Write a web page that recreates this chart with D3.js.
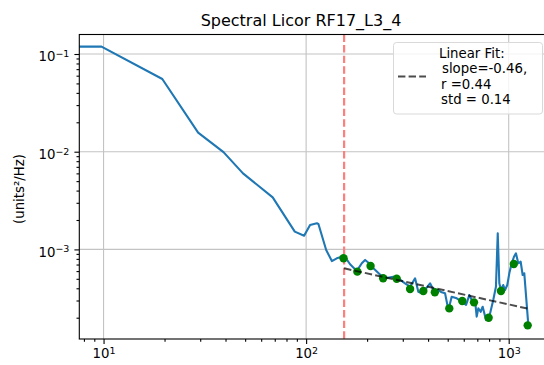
<!DOCTYPE html>
<html>
<head>
<meta charset="utf-8">
<script src="https://cdn.jsdelivr.net/npm/d3@7"></script>
<style>
  html, body { margin: 0; padding: 0; background: #fff; }
  svg { display: block; font-family: "DejaVu Sans", sans-serif; }
</style>
</head>
<body>
<svg id="chart" width="544" height="365"></svg>
<script>
// spectrum (Hz, units^2/Hz)
const freq = [1, 9.77, 19.5, 29.3, 39.1, 48.8, 68.4, 87.9, 97.7,
  104.6, 113, 115, 125.6, 134, 141.7, 154.5, 164.8, 177.9, 188.3,
  195.5, 204.6, 214.8, 237.8, 245.3, 269.7, 285.3, 307.8, 325.8, 345,
  358, 372, 391, 409, 433, 449, 467, 485, 504, 523,
  554, 586, 616, 639, 657, 682, 695, 708, 727, 744,
  773, 802, 839, 865, 883, 899, 916, 940, 959, 984,
  1007, 1035, 1062, 1086, 1115, 1146, 1172, 1194, 1250];
const psd = [0.119, 0.119, 0.0555, 0.0157, 0.0099, 0.0060, 0.00341, 0.00152, 0.00138,
  0.00178, 0.00185, 0.00182, 9.86e-4, 7.60e-4, 8.11e-4, 8.55e-4, 7.05e-4, 6.02e-4, 7.21e-4,
  7.80e-4, 7.21e-4, 6.41e-4, 5.26e-4, 5.06e-4, 5.26e-4, 5.06e-4, 4.50e-4, 4.15e-4, 5.06e-4,
  3.69e-4, 3.56e-4, 4.00e-4, 4.50e-4, 3.56e-4, 3.84e-4, 3.64e-4, 3.56e-4, 2.40e-4, 3.28e-4,
  3.16e-4, 2.92e-4, 2.70e-4, 3.41e-4, 3.03e-4, 3.03e-4, 2.05e-4, 2.49e-4, 2.30e-4, 2.59e-4,
  1.89e-4, 2.05e-4, 3.03e-4, 4.15e-4, 1.46e-3, 4.50e-4, 3.84e-4, 4.32e-4, 3.84e-4, 4.32e-4,
  5.69e-4, 7.21e-4, 8.41e-4, 9.12e-4, 7.21e-4, 7.48e-4, 5.47e-4, 5.69e-4, 1.68e-4];

// log-binned points used for the fit
const binFreq = [153, 179, 208, 240, 280, 326, 379, 432, 509, 590, 674, 796, 916, 1060, 1241];
const binPsd = [8.11e-4, 5.92e-4, 6.76e-4, 5.06e-4, 5.01e-4, 3.94e-4, 3.75e-4, 3.64e-4,
  2.49e-4, 2.96e-4, 2.87e-4, 2.00e-4, 3.75e-4, 7.10e-4, 1.67e-4];

const fitFreq = [154, 1241];
const fitPsd = [6.4e-4, 2.48e-4];
const cutoff = 154;

const xMajor = [10, 100, 1000];
const yMajor = [1e-1, 1e-2, 1e-3];
const legendLines = ['Linear Fit:', 'slope=-0.46,', 'r =0.44', 'std = 0.14'];

const pLeft = 79.3, pRight = 549.6, pTop = 34.5, pBottom = 339;

const svg = d3.select('#chart');
const x = d3.scaleLog().domain([7.59, 1592]).range([pLeft, pRight]);
const y = d3.scaleLog().domain([Math.pow(10, -0.8004), Math.pow(10, -3.917)]).range([pTop, pBottom]);

// minor ticks 2..9 per decade
const minor = (sc) => {
  const [a, b] = d3.extent(sc.domain());
  const out = [];
  for (let e = Math.floor(Math.log10(a)); e <= Math.ceil(Math.log10(b)); e++) {
    for (let k = 2; k <= 9; k++) {
      const v = k * Math.pow(10, e);
      if (v >= a && v <= b) out.push(v);
    }
  }
  return out;
};

svg.append('defs').append('clipPath').attr('id', 'plot')
  .append('rect').attr('x', pLeft).attr('y', pTop)
  .attr('width', pRight - pLeft).attr('height', pBottom - pTop);

// grid
const grid = svg.append('g').attr('stroke', '#b0b0b0').attr('stroke-width', 1.1).attr('opacity', 0.75);
grid.selectAll('.gx').data(xMajor).enter().append('line')
  .attr('x1', d => x(d)).attr('x2', d => x(d)).attr('y1', pTop).attr('y2', pBottom);
grid.selectAll('.gy').data(yMajor).enter().append('line')
  .attr('y1', d => y(d)).attr('y2', d => y(d)).attr('x1', pLeft).attr('x2', pRight);

const plot = svg.append('g').attr('clip-path', 'url(#plot)');

// cutoff line
plot.append('line')
  .attr('x1', x(cutoff)).attr('x2', x(cutoff)).attr('y1', pTop).attr('y2', pBottom)
  .attr('stroke', '#ff7f7f').attr('stroke-width', 2.2).attr('stroke-dasharray', '7.4,3.2');

// spectrum
const line = d3.line().x((d, i) => x(freq[i])).y(d => y(d));
plot.append('path').datum(psd)
  .attr('d', line)
  .attr('fill', 'none').attr('stroke', '#1f77b4').attr('stroke-width', 2.1)
  .attr('stroke-linejoin', 'round').attr('stroke-linecap', 'square');

// binned points
plot.selectAll('.pt').data(binPsd).enter().append('circle')
  .attr('cx', (d, i) => x(binFreq[i])).attr('cy', d => y(d)).attr('r', 4.2)
  .attr('fill', '#008000');

// fit
const fitLine = d3.line().x((d, i) => x(fitFreq[i])).y(d => y(d));
plot.append('path').datum(fitPsd)
  .attr('d', fitLine)
  .attr('fill', 'none').attr('stroke', '#000').attr('stroke-opacity', 0.7)
  .attr('stroke-width', 2).attr('stroke-dasharray', '7.4,3.2');

// frame
svg.append('rect').attr('x', pLeft).attr('y', pTop)
  .attr('width', pRight - pLeft).attr('height', pBottom - pTop)
  .attr('fill', 'none').attr('stroke', '#000').attr('stroke-width', 1.1);

// axes
const sup = (sel) => {
  sel.each(function (d) {
    const t = d3.select(this).text('');
    t.append('tspan').text('10');
    t.append('tspan').attr('dy', '-0.45em').attr('font-size', '9.5px')
      .text(String(Math.round(Math.log10(d))).replace('-', '\u2212'));
  });
};

svg.append('g').attr('transform', `translate(0,${pBottom})`)
  .call(d3.axisBottom(x).tickValues(minor(x)).tickSize(2.8).tickFormat(''));
const xMaj = svg.append('g').attr('transform', `translate(0,${pBottom})`)
  .call(d3.axisBottom(x).tickValues(xMajor).tickSize(4.9).tickPadding(5).tickFormat(d => d));
xMaj.selectAll('text').attr('font-size', '13.3px').attr('fill', '#000').attr('font-family', '"DejaVu Sans"').call(sup);

svg.append('g').attr('transform', `translate(${pLeft},0)`)
  .call(d3.axisLeft(y).tickValues(minor(y)).tickSize(2.8).tickFormat(''));
const yMaj = svg.append('g').attr('transform', `translate(${pLeft},0)`)
  .call(d3.axisLeft(y).tickValues(yMajor).tickSize(4.9).tickPadding(5).tickFormat(d => d));
yMaj.selectAll('text').attr('font-size', '13.3px').attr('fill', '#000').attr('font-family', '"DejaVu Sans"').attr('dy', '0.5em').call(sup);

svg.selectAll('.domain').remove();
svg.selectAll('.tick line').attr('stroke', '#000').attr('stroke-width', 1.1);

// labels
svg.append('text').attr('x', 301).attr('y', 26).attr('text-anchor', 'middle')
  .attr('font-size', '16px').attr('fill', '#000').text('Spectral Licor RF17_L3_4');

svg.append('text').attr('transform', `translate(24,189) rotate(-90)`)
  .attr('text-anchor', 'middle').attr('font-size', '13.3px').attr('fill', '#000')
  .text('(units\u00b2/Hz)');

// legend
const lg = svg.append('g');
lg.append('rect').attr('x', 393.5).attr('y', 42.5).attr('width', 149).attr('height', 71.5)
  .attr('rx', 3).attr('fill', '#fff').attr('fill-opacity', 0.8)
  .attr('stroke', '#d9d9d9').attr('stroke-width', 1);
lg.append('line').attr('x1', 398).attr('x2', 426).attr('y1', 76.5).attr('y2', 76.5)
  .attr('stroke', '#000').attr('stroke-opacity', 0.7).attr('stroke-width', 2)
  .attr('stroke-dasharray', '7.4,3.2');
lg.selectAll('.lt').data(legendLines).enter().append('text')
  .attr('x', (d, i) => i === 0 ? 439 : (i === 1 ? 442 : 441))
  .attr('y', (d, i) => 57.5 + i * 15.6)
  .attr('font-size', '13.3px').attr('fill', '#000')
  .text(d => d);
</script>
</body>
</html>
